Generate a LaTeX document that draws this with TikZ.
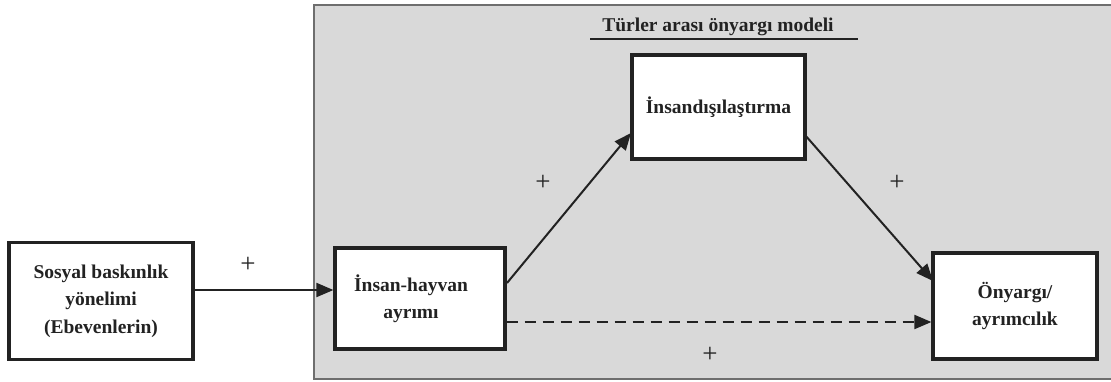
\documentclass[tikz,border=0pt]{standalone}
\usepackage{fontspec}
\setmainfont{Liberation Serif}
\usetikzlibrary{arrows.meta}
\definecolor{panel}{HTML}{D9D9D9}
\definecolor{panelline}{HTML}{6E6E6E}
\definecolor{ink}{HTML}{222222}
\begin{document}
\begin{tikzpicture}[x=1pt,y=-1pt,
  varbox/.style={draw=ink,line width=3.2pt,fill=white,inner sep=0pt,align=center,
    font=\fontsize{19.5}{27.5}\selectfont\bfseries,text=ink},
  conn/.style={draw=ink,line width=2pt,-{Triangle[length=17pt,width=14pt]}},
  plus/.style={font=\fontsize{27}{27}\selectfont,text=ink,inner sep=0pt}]
\useasboundingbox (0,0) rectangle (1111,381);
\fill[panel] (314,5) rectangle (1115,379);
\draw[panelline,line width=1.8pt] (1115,5) -- (314,5) -- (314,379) -- (1115,379);
\node[font=\fontsize{19.5}{22}\selectfont\bfseries,text=ink,inner sep=0pt] (title) at (718,27) {Türler arası önyargı modeli};
\coordinate (ulA) at (590,39);
\coordinate (ulB) at (858,39);
\draw[ink,line width=2.8pt] (ulA) -- (ulB);
\node[varbox,minimum width=184pt,minimum height=117pt] (sdo) at (101,301) {Sosyal baskınlık\\yönelimi\\(Ebevenlerin)};
\node[varbox,minimum width=170pt,minimum height=101pt] (iha) at (420,298.5) {İnsan-hayvan\hspace*{18pt}\\ayrımı\hspace*{18pt}};
\node[varbox,minimum width=173pt,minimum height=104pt] (ins) at (718.5,107) {İnsandışılaştırma};
\node[varbox,minimum width=164pt,minimum height=106pt] (ony) at (1015,306) {Önyargı/\\ayrımcılık};
\coordinate (a1) at (507,283);
\coordinate (a2) at (631,133);
\coordinate (b1) at (805,135);
\coordinate (b2) at (933,281);
\path[conn] (sdo.east |- 0,290) -- (iha.west |- 0,290);
\path[conn] (a1) -- (a2);
\path[conn] (b1) -- (b2);
\path[conn,dashed,dash pattern=on 11pt off 7pt] (iha.east |- 0,322) -- (ony.west |- 0,322);
\node[plus] (p1) at (248,265) {+};
\node[plus] (p2) at (543,183) {+};
\node[plus] (p3) at (897,183) {+};
\node[plus] (p4) at (710,355) {+};
\end{tikzpicture}
\end{document}
